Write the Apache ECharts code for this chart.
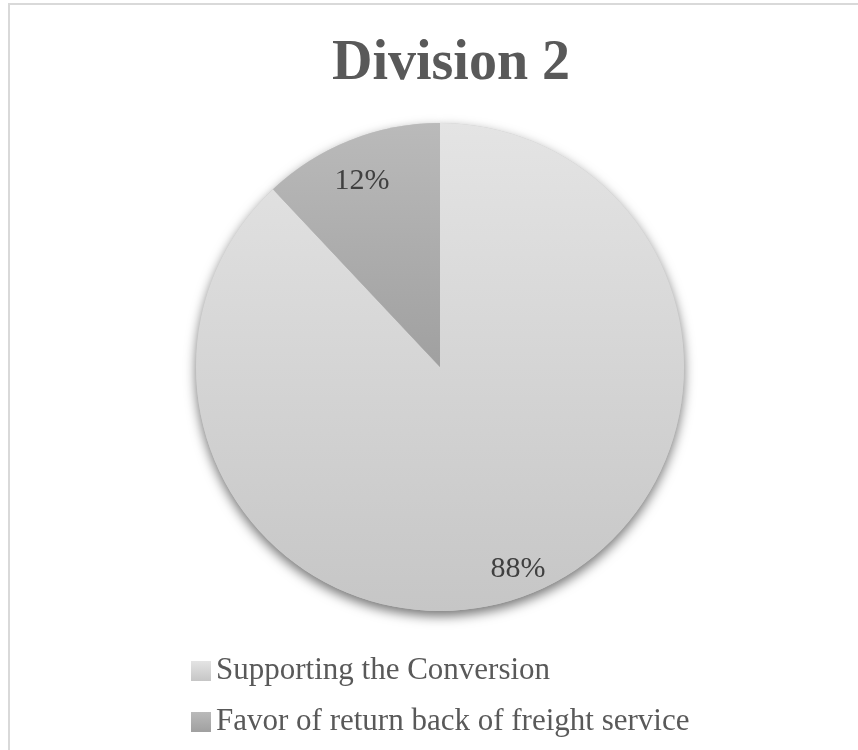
<!DOCTYPE html>
<html>
<head>
<meta charset="utf-8">
<script src="https://cdn.jsdelivr.net/npm/echarts@6/dist/echarts.min.js"></script>
<style>
  html, body { margin: 0; padding: 0; background: #fff; }
  #chart { width: 858px; height: 750px; }
</style>
</head>
<body>
<div id="chart"></div>
<script>
// data
const categories = ["Supporting the Conversion", "Favor of return back of freight service"];
const shares = [88, 12];
const titleText = "Division 2";

// slice gradients (top -> bottom)
const sliceColors = [
  ["#e4e4e4", "#c6c6c6"],
  ["#bababa", "#a0a0a0"],
];

const grad = (c) => new echarts.graphic.LinearGradient(0, 0, 0, 1, [
  { offset: 0, color: c[0] },
  { offset: 1, color: c[1] },
]);

const pieData = categories.map((name, i) => ({
  name: name,
  value: shares[i],
  itemStyle: { color: grad(sliceColors[i]) },
}));

const chart = echarts.init(document.getElementById("chart"));
const center = [440, 367];
const R = 244;

chart.setOption({
  animation: false,
  title: {
    text: titleText,
    left: 327,
    top: 32,
    textStyle: {
      fontFamily: "Liberation Serif",
      fontWeight: "bold",
      fontSize: 56,
      color: "#595959",
    },
  },
  legend: {
    data: categories,
    orient: "vertical",
    left: 186,
    top: 649,
    icon: "rect",
    itemWidth: 20,
    itemHeight: 20,
    itemGap: 17,
    selectedMode: false,
    textStyle: {
      fontFamily: "Liberation Serif",
      fontSize: 31,
      lineHeight: 34,
      color: "#595959",
      padding: [0, 0, 0, 0],
    },
  },
  graphic: [
    {
      type: "rect",
      silent: true,
      shape: { x: 9, y: 4, width: 900, height: 800 },
      style: { fill: "none", stroke: "#d9d9d9", lineWidth: 2 },
    },
  ],
  series: [
    {
      // main slices
      type: "pie",
      z: 3,
      center: center,
      radius: [0, R],
      startAngle: 90,
      silent: true,
      label: { show: false },
      labelLine: { show: false },
      data: pieData,
    },
    {
      // shadow underneath
      type: "pie",
      z: 2,
      center: center,
      radius: [0, R],
      startAngle: 90,
      silent: true,
      label: { show: false },
      labelLine: { show: false },
      itemStyle: {
        color: "#c8c8c8",
        shadowBlur: 12,
        shadowOffsetY: 5,
        shadowColor: "rgba(0,0,0,0.55)",
      },
      data: categories.map((name, i) => ({ name: name + " ", value: shares[i] })),
    },
    {
      // percentage labels
      type: "pie",
      z: 4,
      center: center,
      radius: [174, R],
      startAngle: 90,
      silent: true,
      itemStyle: { color: "rgba(0,0,0,0)" },
      label: {
        show: true,
        position: "inside",
        formatter: "{c}%",
        fontFamily: "Liberation Serif",
        fontSize: 30,
        color: "#404040",
      },
      labelLayout: (p) => ({ dy: p.dataIndex === 1 ? 11 : 5 }),
      labelLine: { show: false },
      data: categories.map((name, i) => ({ name: name + "  ", value: shares[i] })),
    },
  ],
});
</script>
</body>
</html>
